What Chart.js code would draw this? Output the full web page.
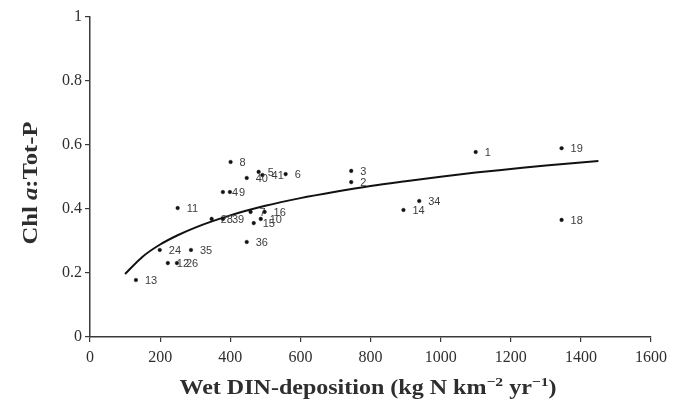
<!DOCTYPE html>
<html>
<head>
<meta charset="utf-8">
<script src="https://cdn.jsdelivr.net/npm/chart.js@4.4.1/dist/chart.umd.min.js"></script>
<style>
  html, body { margin: 0; padding: 0; background: #fff; }
  #wrap { width: 675px; height: 409px; position: relative; }
</style>
</head>
<body>
<div id="wrap"><canvas id="c" width="675" height="409"></canvas></div>
<script>
// Site observations: wet DIN deposition vs. Chl a : Tot-P ratio
const siteIds = ['13','24','35','12','26','36','11','8','4','9','40','5','41','6','28','39','7','16','15','10','3','2','14','34','1','19','18'];
const depositionValues = [131, 199, 288, 222, 248, 447, 250, 401, 379, 399, 447, 481, 492, 558, 347, 379, 458, 498, 467, 487, 745, 745, 894, 939, 1100, 1345, 1345];
const chlRatioValues = [0.178, 0.272, 0.272, 0.231, 0.231, 0.297, 0.403, 0.547, 0.453, 0.453, 0.497, 0.516, 0.506, 0.509, 0.369, 0.369, 0.391, 0.391, 0.356, 0.369, 0.519, 0.484, 0.397, 0.425, 0.578, 0.590, 0.366];

// Fitted trend line, read at a set of deposition levels
const trendDeposition = [100, 150, 200, 250, 300, 400, 500, 600, 700, 800, 900, 1000, 1100, 1200, 1300, 1450];
const trendRatio = [0.197, 0.251, 0.289, 0.318, 0.342, 0.380, 0.410, 0.434, 0.454, 0.472, 0.487, 0.501, 0.514, 0.525, 0.536, 0.550];

// Axis tick values
const xTickValues = [0, 200, 400, 600, 800, 1000, 1200, 1400, 1600];
const yTickValues = [0, 0.2, 0.4, 0.6, 0.8, 1];

const pointData = depositionValues.map((x, i) => ({ x: x, y: chlRatioValues[i] }));
const trendData = trendDeposition.map((x, i) => ({ x: x, y: trendRatio[i] }));

const AXIS_COLOR = '#3a3a3a';
const SERIF = '"Liberation Serif", "DejaVu Serif", serif';
const SANS = '"Liberation Sans", Arial, sans-serif';

// Writes the site number beside each observation
const siteLabelPlugin = {
  id: 'siteLabels',
  afterDatasetsDraw(chart) {
    const meta = chart.getDatasetMeta(0);
    const ctx = chart.ctx;
    ctx.save();
    ctx.font = '11px ' + SANS;
    ctx.fillStyle = '#3c3c3c';
    ctx.textBaseline = 'middle';
    ctx.textAlign = 'left';
    meta.data.forEach((el, i) => {
      ctx.fillText(siteIds[i], el.x + 9, el.y + 1);
    });
    ctx.restore();
  }
};

// Draws a run of text pieces with individual fonts and vertical shifts,
// centred on (x, y) and widened to the given length
function drawRuns(ctx, runs, x, y, length) {
  let total = 0;
  runs.forEach(r => { ctx.font = r.font; total += ctx.measureText(r.text).width; });
  const sx = length / total;
  ctx.save();
  ctx.translate(x - length / 2, y);
  ctx.scale(sx, 1);
  let cx = 0;
  runs.forEach(r => {
    ctx.font = r.font;
    ctx.fillText(r.text, cx, r.dy || 0);
    cx += ctx.measureText(r.text).width;
  });
  ctx.restore();
}

const axisTitlePlugin = {
  id: 'axisTitles',
  afterDraw(chart) {
    const ctx = chart.ctx;
    const area = chart.chartArea;
    ctx.save();
    ctx.fillStyle = '#2e2e2e';
    ctx.textBaseline = 'alphabetic';
    ctx.textAlign = 'left';
    const bold = 'bold 20px ' + SERIF;
    const sup = 'bold 13px ' + SERIF;
    drawRuns(ctx, [
      { text: 'Wet DIN-deposition (kg N km', font: bold },
      { text: '\u22122', font: sup, dy: -8 },
      { text: ' yr', font: bold },
      { text: '\u22121', font: sup, dy: -8 },
      { text: ')', font: bold }
    ], 368, 394, 377);

    ctx.translate(37, 183);
    ctx.rotate(-Math.PI / 2);
    drawRuns(ctx, [
      { text: 'Chl ', font: 'bold 21px ' + SERIF },
      { text: 'a', font: 'italic bold 21px ' + SERIF },
      { text: ':Tot-P', font: 'bold 21px ' + SERIF }
    ], 0, 0, 123);
    ctx.restore();
  }
};

new Chart(document.getElementById('c'), {
  type: 'scatter',
  data: {
    datasets: [
      {
        label: 'Sites',
        data: pointData,
        pointStyle: 'circle',
        pointRadius: 1.8,
        pointBackgroundColor: '#111',
        pointBorderColor: '#111',
        pointBorderWidth: 0.5,
        showLine: false
      },
      {
        label: 'Trend',
        type: 'line',
        data: trendData,
        borderColor: '#111',
        borderWidth: 2,
        pointRadius: 0,
        fill: false,
        cubicInterpolationMode: 'monotone'
      }
    ]
  },
  plugins: [siteLabelPlugin, axisTitlePlugin],
  options: {
    responsive: false,
    animation: false,
    devicePixelRatio: 1,
    layout: { padding: { left: 0, right: 24, top: 17, bottom: 0 } },
    plugins: {
      legend: { display: false },
      tooltip: { enabled: false }
    },
    scales: {
      x: {
        type: 'linear',
        min: 0,
        max: 1600,
        afterBuildTicks(scale) { scale.ticks = xTickValues.map(v => ({ value: v })); },
        afterFit(scale) { scale.height = 72; },
        grid: { display: true, drawOnChartArea: false, drawTicks: true, tickLength: 5, color: AXIS_COLOR, lineWidth: 1.2 },
        border: { display: true, color: AXIS_COLOR, width: 1.5 },
        ticks: {
          color: '#2e2e2e',
          padding: 6,
          maxRotation: 0,
          font: { family: SERIF, size: 16 },
          callback: v => String(v)
        }
      },
      y: {
        type: 'linear',
        min: 0,
        max: 1,
        afterBuildTicks(scale) { scale.ticks = yTickValues.map(v => ({ value: v })); },
        afterFit(scale) { scale.width = 90; },
        grid: { display: true, drawOnChartArea: false, drawTicks: true, tickLength: 5, color: AXIS_COLOR, lineWidth: 1.2 },
        border: { display: true, color: AXIS_COLOR, width: 1.5 },
        ticks: {
          color: '#2e2e2e',
          padding: 3,
          font: { family: SERIF, size: 16 },
          callback: v => String(v)
        }
      }
    }
  }
});
</script>
</body>
</html>
